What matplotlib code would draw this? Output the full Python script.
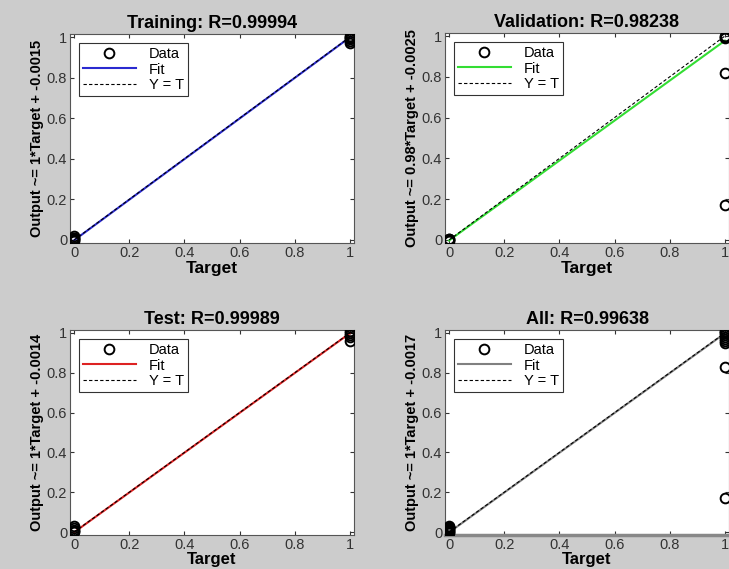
import matplotlib
matplotlib.use("Agg")
import matplotlib.pyplot as plt

plt.rcParams['font.family'] = ['Liberation Sans', 'DejaVu Sans']

# regression results for each data split
titles = ["Training: R=0.99994", "Validation: R=0.98238",
          "Test: R=0.99989", "All: R=0.99638"]
slopes = [1.0, 0.98, 1.0, 1.0]
offsets = [-0.0015, -0.0025, -0.0014, -0.0017]
slope_text = ["1", "0.98", "1", "1"]
offset_text = ["-0.0015", "-0.0025", "-0.0014", "-0.0017"]
fit_colors = ["#2a2ad0", "#33dd33", "#dd2222", "#808080"]

train_targets = [0, 0, 0, 0, 0, 0, 1, 1, 1, 1, 1, 1]
train_outputs = [-0.005, 0.0, 0.004, 0.008, 0.012, 0.02,
                 0.97, 0.98, 0.99, 0.995, 1.0, 1.005]
val_targets = [0, 0, 0, 0, 1, 1, 1, 1, 1]
val_outputs = [-0.004, 0.0, 0.003, 0.006, 0.99, 0.995, 1.0, 0.82, 0.17]
test_targets = [0, 0, 0, 0, 0, 1, 1, 1, 1, 1]
test_outputs = [0.0, 0.005, 0.01, 0.02, 0.03, 0.96, 0.98, 0.99, 1.0, 1.01]
all_targets = [0, 0, 0, 0, 0, 0, 0, 0, 1, 1, 1, 1, 1, 1, 1, 1, 1, 1]
all_outputs = [-0.005, 0.0, 0.005, 0.01, 0.015, 0.02, 0.025, 0.03,
               0.95, 0.96, 0.97, 0.98, 0.99, 1.0, 1.005, 1.01, 0.83, 0.17]

targets = [train_targets, val_targets, test_targets, all_targets]
outputs = [train_outputs, val_outputs, test_outputs, all_outputs]

ticks = [0, 0.2, 0.4, 0.6, 0.8, 1]
tick_labels = ["0", "0.2", "0.4", "0.6", "0.8", "1"]

W, H = 729, 569
fig = plt.figure(figsize=(W / 100, H / 100), dpi=100)
fig.patch.set_facecolor("#cccccc")

# axes boxes in pixels: left, top, width, height
boxes = [(70, 34, 284, 209), (445, 33, 284, 210),
         (70, 330, 284, 205), (445, 330, 284, 205)]

for i in range(4):
    left, top, w, h = boxes[i]
    ax = fig.add_axes([left / W, 1 - (top + h) / H, w / W, h / H])
    ax.set_facecolor("white")

    t_line = [0, 1]
    fit_line = [slopes[i] * t + offsets[i] for t in t_line]
    ax.plot(targets[i], outputs[i], 'o', mfc='none', mec='black',
            ms=7, mew=1.4, label="Data", zorder=3)
    ax.plot(t_line, fit_line, '-', color=fit_colors[i], lw=1.5, label="Fit")
    ax.plot(t_line, t_line, '--', color="black", lw=0.8, dashes=(3, 2),
            label="Y = T")

    ax.set_xlim(-0.015, 1.015)
    ax.set_ylim(-0.015, 1.015)
    ax.set_xticks(ticks)
    ax.set_xticklabels(tick_labels)
    ax.set_yticks(ticks)
    ax.set_yticklabels(tick_labels)
    ax.tick_params(direction='in', length=3, width=0.8, top=True, right=True,
                   labelsize=10.5, colors="#333333", labelcolor="#333333", pad=2)
    for sp in ax.spines.values():
        sp.set_color("#555555")
        sp.set_linewidth(0.8)
    if i == 3:
        ax.spines['bottom'].set_color("#888888")
        ax.spines['bottom'].set_linewidth(2.5)

    ax.set_title(titles[i], fontsize=13, fontweight='bold', pad=4)
    ax.set_xlabel("Target", fontsize=12.5 if i < 2 else 12, fontweight='bold',
                  labelpad=1 if i < 2 else 0)
    ax.set_ylabel("Output ~= " + slope_text[i] + "*Target + " + offset_text[i],
                  fontsize=10.5, fontweight='bold', labelpad=2)

    leg = ax.legend(loc='upper left', fontsize=10.5, frameon=True, fancybox=False,
                    handlelength=3.6, borderpad=0.3, labelspacing=0.1,
                    handletextpad=0.9, borderaxespad=0.6)
    leg.get_frame().set_edgecolor("black")
    leg.get_frame().set_linewidth(0.8)

fig.savefig("out.png", dpi=100, facecolor=fig.get_facecolor())
